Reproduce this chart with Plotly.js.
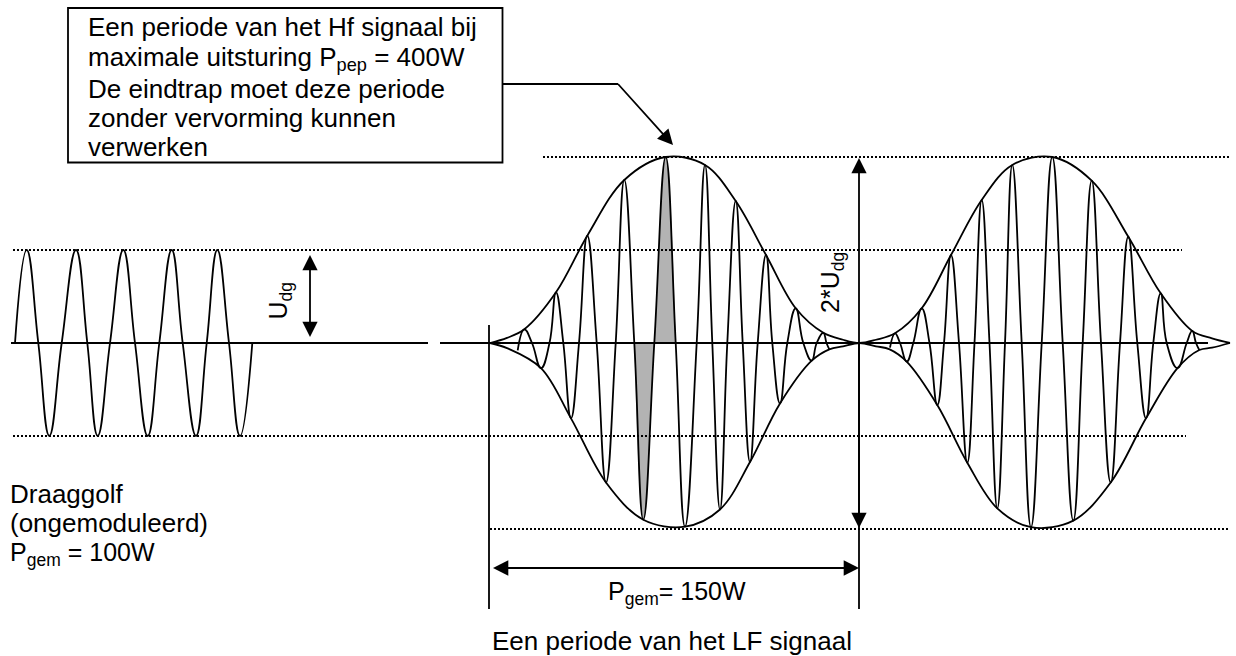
<!DOCTYPE html>
<html><head><meta charset="utf-8">
<script src="https://cdn.plot.ly/plotly-3.0.1.min.js"></script>
<style>html,body{margin:0;padding:0;background:#fff;overflow:hidden}</style>
</head><body>
<div id="chart" style="width:1236px;height:656px"></div>
<script>
// ---------- data (x = position along the time axis, y = voltage in units of U_dg) ----------
// unmodulated carrier (Draaggolf): zero crossings and extremes
const carrierX = [15, 26.7, 38.3, 49.3, 61.7, 76, 87.3, 97.7, 110, 123.3, 135, 147.7, 159.3, 171.7, 182.7, 196, 206.7, 217.3, 229, 240, 252.3];
const carrierY = [0, 1, 0, -1, 0, 1, 0, -1, 0, 1, 0, -1, 0, 1, 0, -1, 0, 1, 0, -1, 0];

// modulated HF signal, first LF period
const hf1X = [517.7, 524.3, 532, 541, 549.5, 556, 563.3, 571, 579, 587.3, 596.7, 606, 615.7, 624.3, 634.3, 643.3, 654.3, 665.7, 675.7, 685, 696.7, 705, 712.3, 720, 727.3, 735.7, 742.7, 750, 757.7, 766, 772.3, 780, 787.3, 795.7, 803.3, 811.7, 816.7, 823.3, 826.5, 829.3];
const hf1Y = [-0.08, 0.147, 0, -0.27, 0, 0.545, 0, -0.81, 0, 1.154, 0, -1.5, 0, 1.753, 0, -1.9, 0, 2.0, 0, -1.975, 0, 1.914, 0, -1.79, 0, 1.527, 0, -1.28, 0, 0.946, 0, -0.65, 0, 0.373, 0, -0.19, 0, 0.11, 0, -0.068];

// modulated HF signal, second LF period
const hf2X = [890, 895, 900, 906.7, 913.3, 921.7, 929.5, 937.3, 944, 951, 959, 967.3, 974.5, 981.7, 989.5, 997.3, 1005, 1012.3, 1021.7, 1031, 1041.7, 1052.3, 1062.7, 1073.3, 1082.7, 1091.7, 1101, 1110.7, 1120, 1128.3, 1137.3, 1146, 1153.3, 1160.7, 1166.7, 1177.5, 1186.7, 1192.2, 1196, 1199.3];
const hf2Y = [-0.05, 0.104, 0, -0.2, 0, 0.373, 0, -0.667, 0, 0.946, 0, -1.287, 0, 1.538, 0, -1.778, 0, 1.914, 0, -1.98, 0, 2.0, 0, -1.91, 0, 1.745, 0, -1.5, 0, 1.143, 0, -0.81, 0, 0.534, 0, -0.27, 0, 0.13, 0, -0.075];

// envelopes (LF signal)
const envUpX = [490, 507, 524.3, 556, 587.3, 624.3, 665.7, 705, 735.7, 766, 795.7, 823.3, 843, 859.5, 876, 895, 921.7, 951, 981.7, 1012.3, 1052.3, 1091.7, 1128.3, 1160.7, 1192.2, 1212, 1230];
const envUpY = [0, 0.055, 0.147, 0.545, 1.154, 1.753, 2.0, 1.914, 1.527, 0.946, 0.373, 0.11, 0.035, 0, 0.035, 0.104, 0.373, 0.946, 1.538, 1.914, 2.0, 1.745, 1.143, 0.534, 0.13, 0.05, 0];
const envLoX = [490, 507, 541, 571, 606, 643.3, 685, 720, 750, 780, 811.7, 829.3, 843, 859.5, 876, 889.7, 906.7, 937.3, 967.3, 997.3, 1031, 1073.3, 1110.7, 1146, 1177.5, 1199.3, 1212, 1230];
const envLoY = [0, -0.055, -0.27, -0.81, -1.5, -1.9, -1.975, -1.79, -1.28, -0.65, -0.19, -0.068, -0.035, 0, -0.035, -0.068, -0.2, -0.667, -1.287, -1.778, -1.98, -1.91, -1.5, -0.81, -0.27, -0.075, -0.05, 0];

// the highlighted HF period at maximum drive (range along x)
const peakPeriod = [634.3, 675.7];

// reference levels (in U_dg)
const levelUdg = 1;
const levelPeak = 2;

// texts
const boxLines = ["Een periode van het Hf signaal bij", "maximale uitsturing P<sub>pep</sub> = 400W", "De eindtrap moet deze periode", "zonder vervorming kunnen", "verwerken"];
const leftLines = ["Draaggolf", "(ongemoduleerd)", "P<sub>gem</sub> = 100W"];
const avgLabel = "P<sub>gem</sub>= 150W";
const lfLabel = "Een periode van het LF signaal";
const udgLabel = "U<sub>dg</sub>";
const udg2Label = "2*U<sub>dg</sub>";

// ---------- layout helpers ----------
const Y0 = 343, K = 93;              // pixel row of zero level, pixels per U_dg
const yv = p => (Y0 - p) / K;        // pixel row -> data y
const LW = 1.8;
const FONT = 'Liberation Sans, Arial, sans-serif';
const BLACK = '#000';

function curve(x, y, smooth) {
  return {x, y, type: 'scatter', mode: 'lines', hoverinfo: 'skip', showlegend: false,
    line: {color: BLACK, width: LW, shape: 'spline', smoothing: smooth}};
}
const gx = [], gy = [];
hf1X.forEach((v, i) => { if (v >= peakPeriod[0] && v <= peakPeriod[1]) { gx.push(v); gy.push(hf1Y[i]); } });

const traces = [
  {x: gx, y: gy, type: 'scatter', mode: 'lines', fill: 'tozeroy', fillcolor: '#b3b3b3',
   line: {width: 0, shape: 'spline', smoothing: 1.3, color: 'rgba(0,0,0,0)'}, hoverinfo: 'skip', showlegend: false},
  curve(carrierX, carrierY, 1.3),
  curve(hf1X, hf1Y, 1.3),
  curve(hf2X, hf2Y, 1.3),
  curve(envUpX, envUpY, 1),
  curve(envLoX, envLoY, 1)
];

function seg(x0, y0, x1, y1, dotted) {
  return {type: 'line', xref: 'x', yref: 'y', x0, y0, x1, y1,
    line: {color: BLACK, width: dotted ? 2 : LW, dash: dotted ? '2px,2px' : 'solid'}};
}
const shapes = [
  seg(13, levelUdg, 1182, levelUdg, true),
  seg(13, -levelUdg, 1186, -levelUdg, true),
  seg(543, levelPeak, 1230, levelPeak, true),
  seg(490, -levelPeak, 1230, -levelPeak, true),
  seg(11, 0, 428, 0),
  seg(440, 0, 1208, 0),
  seg(489, yv(325), 489, yv(609)),
  seg(859, 0, 859, yv(609)),
  {type: 'rect', xref: 'x', yref: 'y', x0: 68, x1: 502.5, y0: yv(8), y1: yv(162.5),
   line: {color: BLACK, width: LW}, fillcolor: 'rgba(0,0,0,0)'},
  seg(502.5, yv(84), 618, yv(84))
];

function arrow(x0, y0, x1, y1, both) {
  return {x: x1, y: y1, ax: x0, ay: y0, xref: 'x', yref: 'y', axref: 'x', ayref: 'y',
    text: '', showarrow: true, arrowhead: 2, arrowsize: 1.7, arrowwidth: LW, arrowcolor: BLACK,
    arrowside: both ? 'end+start' : 'end', startarrowhead: 2, startarrowsize: 1.7,
    standoff: 0, startstandoff: 0, font: {size: 1}, borderpad: 0, borderwidth: 0};
}
function label(text, x, top, size, xanchor) {
  return {text, x, y: yv(top), xref: 'x', yref: 'y', xanchor: xanchor || 'left', yanchor: 'top',
    showarrow: false, align: 'left', borderpad: 0, borderwidth: 0,
    font: {family: FONT, size, color: BLACK}};
}
function vlabel(text, cx, cy) {
  return {text, x: cx, y: yv(cy), xref: 'x', yref: 'y', xanchor: 'center', yanchor: 'middle',
    textangle: -90, showarrow: false, borderpad: 0, borderwidth: 0,
    font: {family: FONT, size: 25, color: BLACK}};
}

const boxBase = [35.5, 65.3, 97.8, 126.6, 155.4];
const leftBase = [503, 532, 561];
const annotations = [
  arrow(310, yv(337), 310, yv(255), true),
  arrow(859, yv(528), 859, yv(158), true),
  arrow(859, yv(568), 493, yv(568), true),
  arrow(618, yv(84), 673, yv(145), false),
  vlabel(udgLabel, 279, 300.5),
  vlabel(udg2Label, 832, 283),
  label(avgLabel, 608, 600 - 22.6, 25),
  label(lfLabel, 671.5, 649 - 23.5, 26, 'center')
];
boxLines.forEach((t, i) => annotations.push(label(t, 88, boxBase[i] - 23.5, 26)));
leftLines.forEach((t, i) => {
  const s = i === 2 ? 25 : 26;
  annotations.push(label(t, 10, leftBase[i] - 0.905 * s, s));
});

const layout = {
  width: 1236, height: 656, margin: {l: 0, r: 0, t: 0, b: 0},
  paper_bgcolor: '#fff', plot_bgcolor: '#fff', showlegend: false,
  xaxis: {range: [0, 1236], visible: false, fixedrange: true},
  yaxis: {range: [yv(656), yv(0)], visible: false, fixedrange: true},
  shapes, annotations
};
Plotly.newPlot('chart', traces, layout, {staticPlot: true, displayModeBar: false});
</script>
</body></html>
